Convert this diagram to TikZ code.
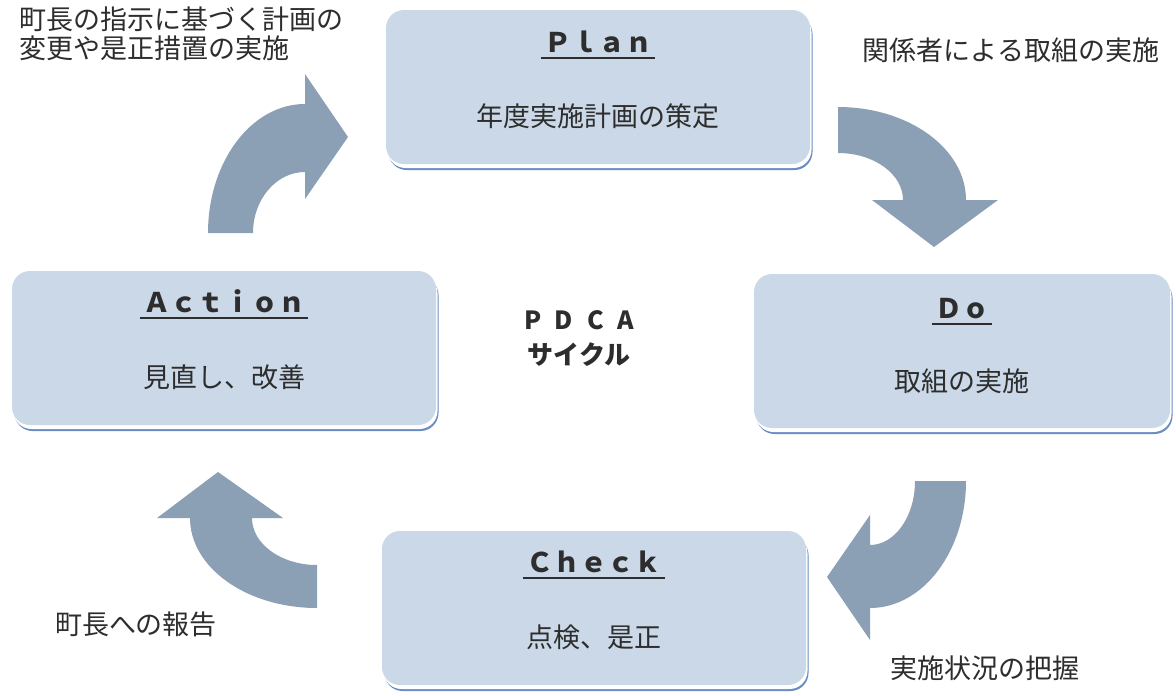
\documentclass[tikz,border=0pt]{standalone}
\usepackage{fontspec}
\setmainfont{Noto Sans CJK JP}
\usepackage{tikz}
\usetikzlibrary{shadows}
\definecolor{boxblue}{RGB}{202,216,231}
\definecolor{shadowblue}{RGB}{105,140,195}
\definecolor{arrowgray}{RGB}{140,160,181}
\definecolor{textgray}{RGB}{45,45,45}

\begin{document}
\begin{tikzpicture}[x=1pt,y=-1pt,
  main box/.style={rounded corners=18pt,fill=boxblue,minimum width=424pt,minimum height=154pt,
    general shadow={fill=shadowblue,shadow xshift=2.5pt,shadow yshift=-6pt},
    general shadow={fill=white,shadow xshift=1.5pt,shadow yshift=-4pt}},
  head text/.style={font=\bfseries\fontsize{27}{30}\selectfont,text=textgray,inner xsep=3pt,inner ysep=0pt,text height=20pt,text depth=0pt},
  body text/.style={font=\fontsize{27}{30}\selectfont,text=textgray},
  note text/.style={font=\fontsize{27}{29}\selectfont,text=textgray,inner sep=0pt,align=left},
  under line/.style={line width=2pt,draw=textgray},
  flow arrow/.style={fill=arrowgray}]
\fill[white] (0,0) rectangle (1176,696);
\useasboundingbox (0,0) rectangle (1176,696);
% the four steps
\node[main box] (plan) at (598,87) {};
\node[main box] (action) at (224,348) {};
\node[main box,minimum width=416pt] (do) at (962,351) {};
\node[main box] (check) at (594,608) {};
\node[head text] (planh) at ([yshift=-33pt]plan.north) {Ｐｌａｎ};
\node[body text] (planb) at ([yshift=-106pt]plan.north) {年度実施計画の策定};
\node[head text] (actionh) at ([yshift=-32pt]action.north) {Ａｃｔｉｏｎ};
\node[body text] (actionb) at ([yshift=-106pt]action.north) {見直し、改善};
\node[head text] (doh) at ([yshift=-35pt]do.north) {Ｄｏ};
\node[body text] (dob) at ([yshift=-107pt]do.north) {取組の実施};
\node[head text] (checkh) at ([yshift=-32pt]check.north) {Ｃｈｅｃｋ};
\node[body text] (checkb) at ([yshift=-107pt]check.north) {点検、是正};
\draw[under line] ([yshift=-4.5pt]planh.south west) -- ([yshift=-4.5pt]planh.south east);
\draw[under line] ([yshift=-4.5pt]actionh.south west) -- ([yshift=-4.5pt]actionh.south east);
\draw[under line] ([yshift=-4.5pt]doh.south west) -- ([yshift=-4.5pt]doh.south east);
\draw[under line] ([yshift=-4.5pt]checkh.south west) -- ([yshift=-4.5pt]checkh.south east);
% centre
\node[font=\bfseries\fontsize{25}{27}\selectfont,text=textgray] (pdca) at (579,320) {\makebox[110pt][s]{P\hfil D\hfil C\hfil A}};
\node[font=\bfseries\fontsize{26}{28}\selectfont,text=textgray] (cycle) at (579,355) {サイクル};
% curved arrows
\fill[flow arrow] (208,233) arc[start angle=180,end angle=270,x radius=97,y radius=129]
  -- (305,74) -- (348,137) -- (305,199) -- (305,172)
  arc[start angle=270,end angle=180,x radius=52,y radius=61] -- cycle;
\fill[flow arrow] (838,107) arc[start angle=270,end angle=360,x radius=128,y radius=93]
  -- (998,200) -- (934,247) -- (872,200) -- (903,200)
  arc[start angle=360,end angle=270,x radius=65,y radius=47] -- cycle;
\fill[flow arrow] (966,481) arc[start angle=0,end angle=90,x radius=96,y radius=127]
  -- (870,640) -- (827,577) -- (870,515) -- (870,545)
  arc[start angle=90,end angle=0,x radius=45,y radius=64] -- cycle;
\fill[flow arrow] (317,608) arc[start angle=90,end angle=180,x radius=127,y radius=90]
  -- (157,518) -- (218,472) -- (283,518) -- (252,518)
  arc[start angle=180,end angle=90,x radius=65,y radius=47] -- cycle;
% notes
\node[note text,anchor=north west] (order) at (19,7) {町長の指示に基づく計画の\\変更や是正措置の実施};
\node[note text] (share) at (1011,50) {関係者による取組の実施};
\node[note text] (report) at (136,624) {町長への報告};
\node[note text] (grasp) at (985,668) {実施状況の把握};
\end{tikzpicture}
\end{document}
